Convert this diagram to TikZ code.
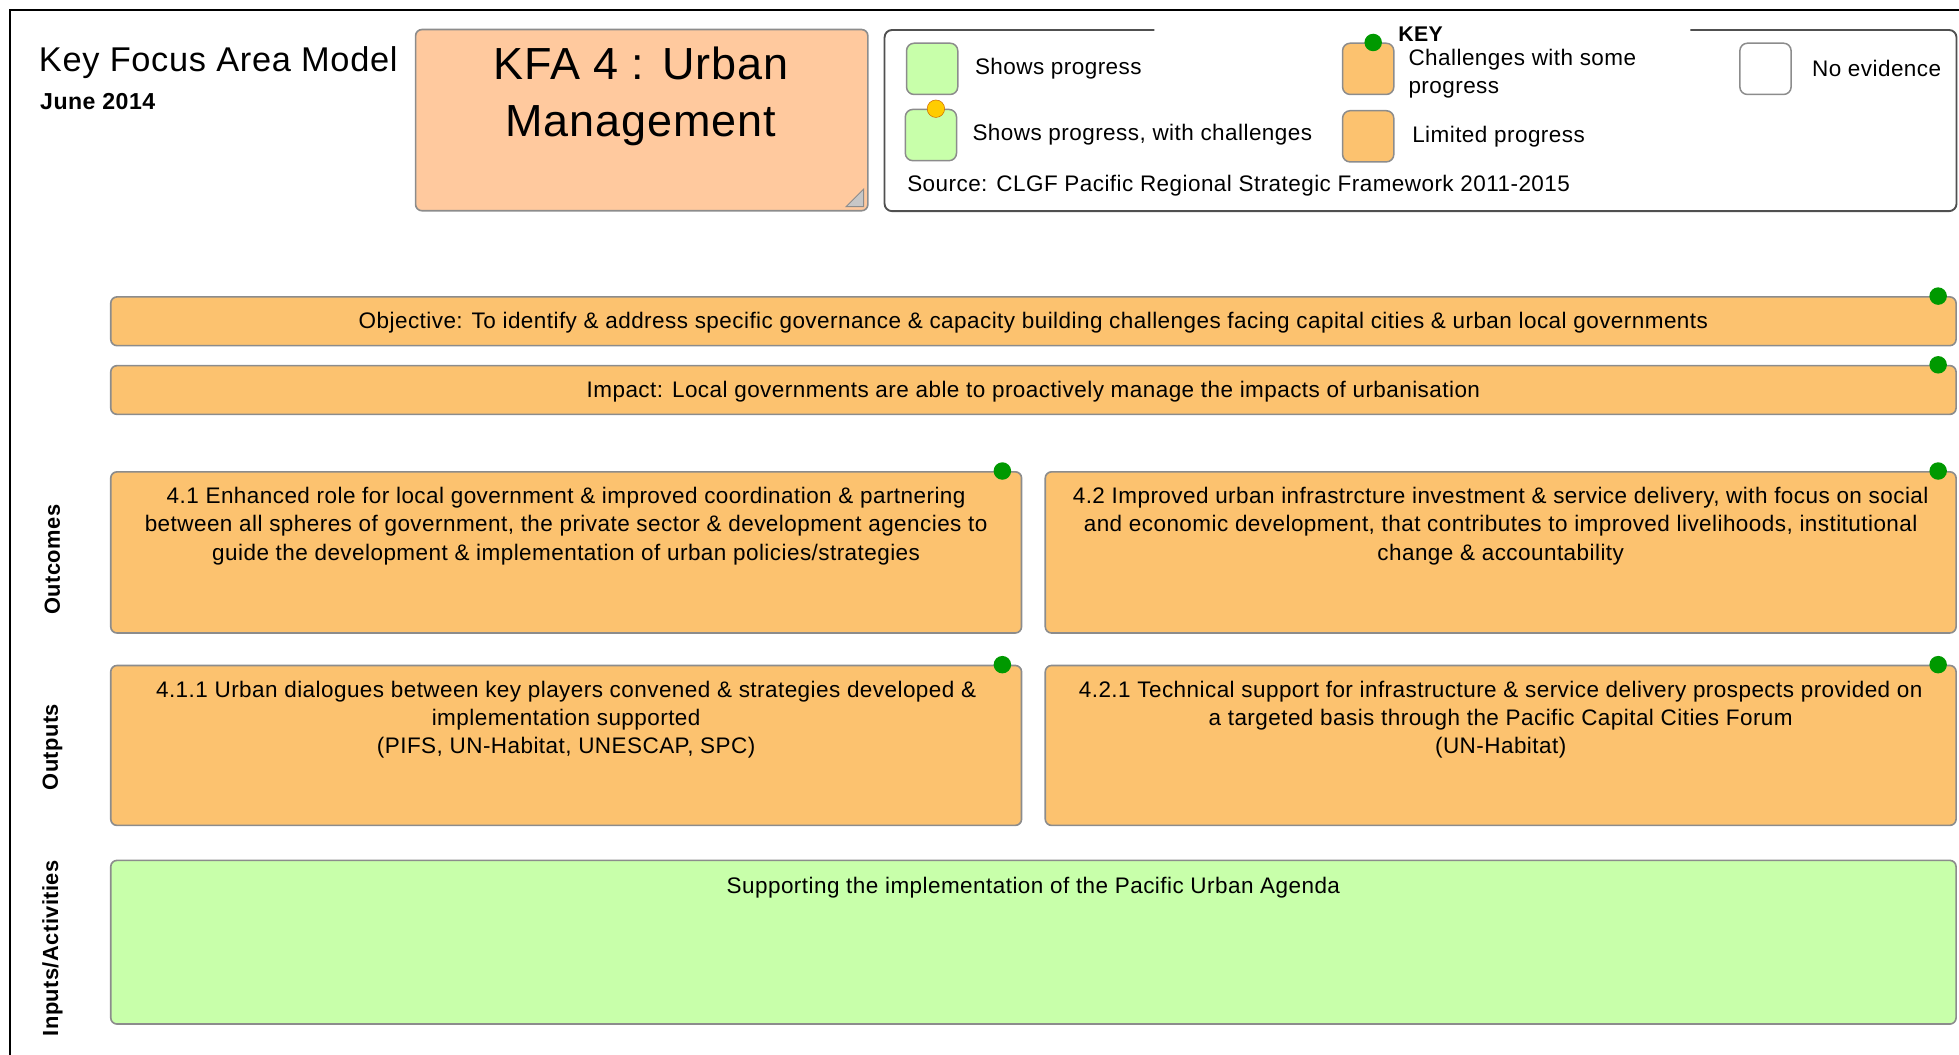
\documentclass[tikz,border=0pt]{standalone}
\usepackage{fontspec}
\setmainfont[LetterSpace=2]{Liberation Sans}
\usepackage{tikz}
\usetikzlibrary{positioning}

\definecolor{kfaorange}{HTML}{FCC26F}
\definecolor{kfapeach}{HTML}{FFC99E}
\definecolor{kfagreen}{HTML}{C8FFAA}
\definecolor{dotgreen}{HTML}{009900}
\definecolor{dotyellow}{HTML}{FFCC00}
\definecolor{edgegray}{HTML}{8C8C8C}
\definecolor{keygray}{HTML}{505050}

\begin{document}
\begin{tikzpicture}[x=1pt,y=-1pt,
	box/.style={draw=edgegray,line width=1.3pt,rounded corners=5pt,anchor=north west,inner sep=0pt},
	keysq/.style={draw=edgegray,line width=1.2pt,rounded corners=6pt,minimum width=41pt,minimum height=41pt,inner sep=0pt,anchor=north west},
	txt/.style={font=\fontsize{18}{22.5}\selectfont,align=center,inner sep=0pt},
	keytxt/.style={font=\fontsize{18}{22}\selectfont,align=left,inner sep=0pt,anchor=west},
	side/.style={rotate=90,font=\bfseries\fontsize{17.5}{18}\selectfont,inner sep=0pt},
	gdot/.style={circle,fill=dotgreen,minimum size=14pt,inner sep=0pt},
	ydot/.style={circle,fill=dotyellow,draw=orange!80!black,line width=0.4pt,minimum size=14pt,inner sep=0pt},
	]
	\useasboundingbox (0,0) rectangle (1568,843.7);
	\clip (0,0) rectangle (1568,843.7);

	% frame
	\draw[line width=1.6pt] (8,870) -- (8,8) -- (1590,8);

	% heading
	\node[anchor=base west,inner sep=0pt,font=\fontsize{27.5}{32}\selectfont] (title) at (31,57) {Key Focus Area Model};
	\node[anchor=base west,inner sep=0pt,font=\bfseries\fontsize{18.5}{20}\selectfont] (date) at (32,88) {June 2014};

	\node[box,fill=kfapeach,minimum width=362pt,minimum height=145pt] (kfa) at (332,23) {};
	\node[anchor=north,inner sep=0pt,align=center,font=\fontsize{36}{46}\selectfont] (kfat) at (513,37) {KFA 4 : Urban\\Management};
	\filldraw[fill=black!22,draw=black!45,line width=0.8pt] ([shift={(-4,-4)}]kfa.south east) -- ++(-14,0) -- ++(14,-14) -- cycle;

	% key
	\draw[keygray,line width=1.5pt,rounded corners=6pt] (924,24) -- (708,24) -- (708,169) -- (1566,169) -- (1566,24) -- (1353,24);
	\node[anchor=west,inner sep=0pt,font=\bfseries\fontsize{17}{20}\selectfont] (key) at (1119,27) {KEY};

	\node[keysq,fill=kfagreen] (sq1) at (725,34) {};
	\node[keysq,fill=kfagreen] (sq2) at (724,87) {};
	\node[keysq,fill=kfaorange] (sq3) at (1074,34) {};
	\node[keysq,fill=kfaorange] (sq4) at (1074,88) {};
	\node[keysq,fill=white] (sq5) at (1392,34) {};
	\node[ydot] (y2) at ([xshift=4pt]sq2.north) {};
	\node[gdot] (g3) at ([xshift=4pt]sq3.north) {};

	\node[keytxt,right=13pt of sq1] (k1) {Shows progress};
	\node[keytxt,right=12pt of sq2] (k2) {Shows progress, with challenges};
	\node[keytxt,right=11pt of sq3,yshift=-4pt] (k3) {Challenges with some\\progress};
	\node[keytxt,right=14pt of sq4] (k4) {Limited progress};
	\node[keytxt,right=16pt of sq5] (k5) {No evidence};
	\node[anchor=base west,inner sep=0pt,font=\fontsize{18}{22}\selectfont] (src) at (726,153) {Source: CLGF Pacific Regional Strategic Framework 2011-2015};

	% objective and impact
	\node[box,fill=kfaorange,minimum width=1477pt,minimum height=39pt] (obj) at (88,237) {};
	\node[txt] (objt) at ([yshift=-1.5pt]obj.center) {Objective: To identify \& address specific governance \& capacity building challenges facing capital cities \& urban local governments};
	\node[gdot] (gobj) at ([xshift=-15pt]obj.north east) {};

	\node[box,fill=kfaorange,minimum width=1477pt,minimum height=39pt] (imp) at (88,292) {};
	\node[txt] (impt) at ([yshift=-1.5pt]imp.center) {Impact: Local governments are able to proactively manage the impacts of urbanisation};
	\node[gdot] (gimp) at ([xshift=-15pt]imp.north east) {};

	% outcomes
	\node[box,fill=kfaorange,minimum width=729pt,minimum height=129pt] (o41) at (88,377) {};
	\node[txt,anchor=north] (o41t) at ([yshift=-13pt]o41.north) {4.1 Enhanced role for local government \& improved coordination \& partnering\\between all spheres of government, the private sector \& development agencies to\\guide the development \& implementation of urban policies/strategies};
	\node[gdot] (go41) at ([xshift=-16pt]o41.north east) {};

	\node[box,fill=kfaorange,minimum width=729pt,minimum height=129pt] (o42) at (836,377) {};
	\node[txt,anchor=north] (o42t) at ([yshift=-13pt]o42.north) {4.2 Improved urban infrastrcture investment \& service delivery, with focus on social\\and economic development, that contributes to improved livelihoods, institutional\\change \& accountability};
	\node[gdot] (go42) at ([xshift=-15pt]o42.north east) {};

	% outputs
	\node[box,fill=kfaorange,minimum width=729pt,minimum height=128pt] (p411) at (88,532) {};
	\node[txt,anchor=north] (p411t) at ([yshift=-13pt]p411.north) {4.1.1 Urban dialogues between key players convened \& strategies developed \&\\implementation supported\\(PIFS, UN-Habitat, UNESCAP, SPC)};
	\node[gdot] (gp411) at ([xshift=-16pt]p411.north east) {};

	\node[box,fill=kfaorange,minimum width=729pt,minimum height=128pt] (p421) at (836,532) {};
	\node[txt,anchor=north] (p421t) at ([yshift=-13pt]p421.north) {4.2.1 Technical support for infrastructure \& service delivery prospects provided on\\a targeted basis through the Pacific Capital Cities Forum\\(UN-Habitat)};
	\node[gdot] (gp421) at ([xshift=-15pt]p421.north east) {};

	% inputs
	\node[box,fill=kfagreen,minimum width=1477pt,minimum height=131pt] (inp) at (88,688) {};
	\node[txt,anchor=north] (inpt) at ([yshift=-14pt]inp.north) {Supporting the implementation of the Pacific Urban Agenda};

	% row labels
	\node[side] (lout) at (42,448) {Outcomes};
	\node[side] (lput) at (42,598) {Outputs};
	\node[side] (linp) at (42,759) {Inputs/Activities};
\end{tikzpicture}
\end{document}
